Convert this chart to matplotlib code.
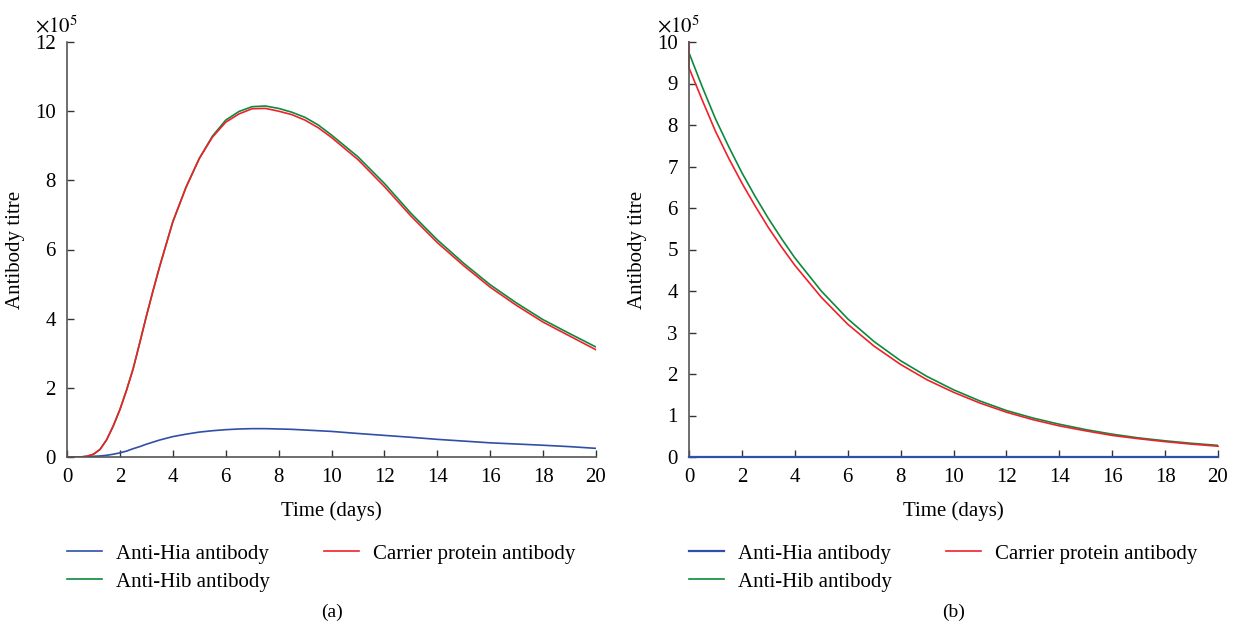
import matplotlib
matplotlib.use("Agg")
import matplotlib.pyplot as plt

plt.rcParams['font.family'] = ['Liberation Serif', 'DejaVu Serif']
plt.rcParams['mathtext.fontset'] = 'stix'

# panel (a): primary response, values in units of 1e5
t_a = [0, 0.5, 0.75, 1, 1.25, 1.5, 1.75, 2, 2.25, 2.5, 2.75, 3, 3.25, 3.5, 4, 4.5, 5, 5.5, 6,
       6.5, 7, 7.5, 8, 8.5, 9, 9.5, 10, 11, 12, 13, 14, 15, 16, 17, 18, 19, 20]
hia_a = [0, 0, 0.01, 0.02, 0.03, 0.05, 0.08, 0.12, 0.17, 0.24, 0.30, 0.37, 0.43, 0.49, 0.59,
         0.66, 0.72, 0.76, 0.79, 0.81, 0.82, 0.82, 0.81, 0.80, 0.78, 0.76, 0.74, 0.68, 0.625,
         0.57, 0.51, 0.46, 0.41, 0.375, 0.34, 0.30, 0.25]
hib_a = [0, 0, 0.02, 0.08, 0.22, 0.5, 0.9, 1.37, 1.93, 2.55, 3.3, 4.07, 4.8, 5.5, 6.8, 7.8,
         8.63, 9.28, 9.74, 9.99, 10.13, 10.15, 10.08, 9.97, 9.82, 9.6, 9.31, 8.68, 7.91, 7.05,
         6.28, 5.6, 4.98, 4.45, 3.97, 3.57, 3.18]
car_a = [0, 0, 0.02, 0.08, 0.22, 0.5, 0.9, 1.37, 1.93, 2.55, 3.3, 4.07, 4.8, 5.5, 6.8, 7.8,
         8.63, 9.25, 9.68, 9.92, 10.07, 10.08, 10.0, 9.9, 9.74, 9.52, 9.24, 8.6, 7.82, 6.97,
         6.2, 5.53, 4.91, 4.38, 3.9, 3.5, 3.1]

# panel (b): decay after peak
t_b = [0, 0.5, 1, 1.5, 2, 2.5, 3, 3.5, 4, 5, 6, 7, 8, 9, 10, 11, 12, 13, 14, 15, 16, 17, 18, 19, 20]
hia_b = [0] * len(t_b)
hib_b = [9.74, 8.92, 8.15, 7.48, 6.85, 6.28, 5.75, 5.26, 4.8, 4.0, 3.33, 2.78, 2.32, 1.94, 1.62,
         1.35, 1.12, 0.94, 0.79, 0.66, 0.55, 0.46, 0.39, 0.33, 0.28]
t_b_car = [0] + t_b
car_b = [10.0, 9.375, 8.6, 7.85, 7.2, 6.6, 6.05, 5.53, 5.06, 4.62, 3.85, 3.2, 2.67, 2.23, 1.86,
         1.56, 1.3, 1.08, 0.9, 0.75, 0.63, 0.52, 0.44, 0.37, 0.31, 0.26]

labels = ['Anti-Hia antibody', 'Anti-Hib antibody', 'Carrier protein antibody']
colors = ['#2f4fa8', '#0c8a3c', '#f0202a']

fig = plt.figure(figsize=(12.36, 6.35), dpi=100)
ax1 = fig.add_axes([67/1236, 178/635, 529/1236, 415/635])
ax2 = fig.add_axes([689/1236, 178/635, 529/1236, 415/635])

ax1.plot(t_a, hia_a, color=colors[0], lw=1.2, label=labels[0])
ax1.plot(t_a, hib_a, color=colors[1], lw=1.2, label=labels[1])
ax1.plot(t_a, car_a, color=colors[2], lw=1.2, label=labels[2])
ax1.set_ylim(0, 12)
ax1.set_yticks(range(0, 13, 2))

ax2.plot(t_b, hia_b, color=colors[0], lw=1.6, label=labels[0], clip_on=False, zorder=3)
ax2.plot(t_b, hib_b, color=colors[1], lw=1.2, label=labels[1])
ax2.plot(t_b_car, car_b, color=colors[2], lw=1.2, label=labels[2], clip_on=False)
ax2.set_ylim(0, 10)
ax2.set_yticks(range(0, 11))

for ax, cap in [(ax1, '(a)'), (ax2, '(b)')]:
    ax.set_xlim(0, 20)
    ax.set_xticks(range(0, 21, 2))
    for s in ['top', 'right']:
        ax.spines[s].set_visible(False)
    for s in ['left', 'bottom']:
        ax.spines[s].set_color('#555555')
        ax.spines[s].set_linewidth(1.2)
    ax.tick_params(direction='in', length=5, width=1, color='#333333', labelsize=15, pad=8)
    ax.set_xlabel('Time (days)', fontsize=15, labelpad=10)
    ax.set_ylabel('Antibody titre', fontsize=15, labelpad=7)
    ax.text(-0.06, 1.012, r'$\times10^{5}$', transform=ax.transAxes, fontsize=15,
            ha='left', va='bottom')
    ax.legend(loc='upper left', bbox_to_anchor=(0, -0.21), ncol=2, frameon=False,
              fontsize=15, handlelength=1.7, handletextpad=0.65, columnspacing=2.6,
              labelspacing=0.4, borderpad=0, borderaxespad=0)
    ax.text(0.5, -0.375, cap, transform=ax.transAxes, fontsize=14, ha='center', va='center')

fig.savefig('out.png', dpi=100)
